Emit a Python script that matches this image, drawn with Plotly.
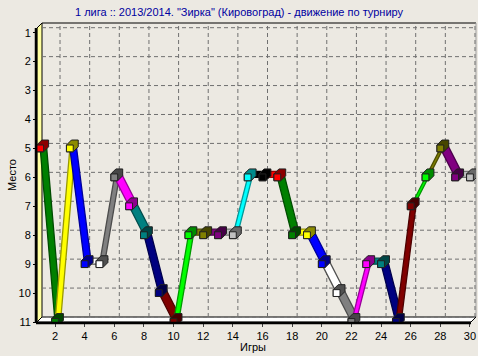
import plotly.graph_objects as go

# ---- data ----
games = list(range(1, 31))
places = [5, 11, 5, 9, 9, 6, 7, 8, 10, 11, 8, 8, 8, 8, 6, 6, 6, 8, 8, 9, 10, 11, 9, 9, 11, 7, 6, 5, 6, 6]
palette = ["#FF0000", "#008000", "#FFFF00", "#0000FF", "#FFFFFF", "#808080", "#FF00FF", "#008080",
           "#000080", "#800000", "#00FF00", "#808000", "#800080", "#C0C0C0", "#00FFFF", "#000000"]
x_ticks = list(range(2, 31, 2))
y_ticks = list(range(1, 12))
title_text = '1 лига :: 2013/2014. "Зирка" (Кировоград) - движение по турниру'
x_title = "Игры"
y_title = "Место"

# ---- geometry (pixels) ----
W, H = 478, 356
L, R, T, B = 37, 476, 23, 322
GX0, GDX = 40.2, 14.82   # pixel of game 1, pixels per game
PY0, PDY = 32.7, 28.93   # pixel of place 1, pixels per place
DEPTH = 5
RDEPTH = 6
BG = "#ECE9E2"
FONT = "Liberation Sans, Arial, sans-serif"

xr = [1 + (L - GX0) / GDX, 1 + (R - GX0) / GDX]
yr = [1 + (B - PY0) / PDY, 1 + (T - PY0) / PDY]
ddx = DEPTH / GDX
ddy = DEPTH / PDY
rdx = RDEPTH / GDX
rdy = RDEPTH / PDY


def px(xp):
    return (xp - L) / (R - L)


def py(yp):
    return (B - yp) / (B - T)


def darker(c, f=0.6):
    c = c.lstrip("#")
    r, g, b = (int(c[i:i + 2], 16) for i in (0, 2, 4))
    if (r, g, b) == (255, 255, 255):
        return "#505050"
    return "#%02x%02x%02x" % (int(r * f), int(g * f), int(b * f))


def col(i):
    return palette[i % len(palette)]


fig = go.Figure()

# ribbons
for i in range(len(games) - 1):
    x0, y0 = games[i], places[i]
    x1, y1 = games[i + 1], places[i + 1]
    c = col(i + 1)
    fig.add_trace(go.Scatter(
        x=[x0, x1, x1 + rdx, x0 + rdx, x0],
        y=[y0, y1, y1 - rdy, y0 - rdy, y0],
        mode="lines", fill="toself", fillcolor=c,
        line=dict(color=darker(c), width=1.3),
        hoverinfo="skip", showlegend=False))

# cubes
h = 3.4
hx, hy = h / GDX, h / PDY
for i, (g, p) in enumerate(zip(games, places)):
    c = col(i)
    fig.add_trace(go.Scatter(
        x=[g - hx, g - hx, g - hx + ddx, g + hx + ddx, g + hx + ddx, g + hx, g - hx],
        y=[p + hy, p - hy, p - hy - ddy, p - hy - ddy, p + hy - ddy, p + hy, p + hy],
        mode="lines", fill="toself", fillcolor=darker(c, 0.55),
        line=dict(color="#202020", width=1), hoverinfo="skip", showlegend=False))
    fig.add_trace(go.Scatter(
        x=[g - hx, g - hx, g + hx, g + hx, g - hx],
        y=[p + hy, p - hy, p - hy, p + hy, p + hy],
        mode="lines", fill="toself", fillcolor=c,
        line=dict(color="#202020", width=1), hoverinfo="skip", showlegend=False))

shapes = []
# back-wall grid
for g in x_ticks:
    shapes.append(dict(type="line", xref="x", yref="y", layer="below",
                       x0=g + ddx, x1=g + ddx, y0=yr[0] - ddy, y1=yr[1],
                       line=dict(color="#707070", width=1, dash="4px,3px")))
for p in y_ticks:
    shapes.append(dict(type="line", xref="x", yref="y", layer="below",
                       x0=xr[0] + ddx, x1=xr[1], y0=p - ddy, y1=p - ddy,
                       line=dict(color="#707070", width=1, dash="4px,3px")))
# back-wall border
shapes.append(dict(type="line", xref="paper", yref="paper", layer="below",
                   x0=px(L + DEPTH), x1=px(R), y0=py(T), y1=py(T),
                   line=dict(color="#000000", width=1)))
shapes.append(dict(type="line", xref="paper", yref="paper", layer="below",
                   x0=px(R), x1=px(R), y0=py(T), y1=py(B - DEPTH),
                   line=dict(color="#A0A0A0", width=1)))
# left wall (yellow)
shapes.append(dict(type="path", xref="paper", yref="paper", layer="below",
                   path="M %f,%f L %f,%f L %f,%f L %f,%f Z" % (
                       px(L), py(B), px(L), py(T + DEPTH), px(L + DEPTH), py(T),
                       px(L + DEPTH), py(B - DEPTH)),
                   fillcolor="#FFFFA0", line=dict(color="#000000", width=1)))
# floor (white)
shapes.append(dict(type="path", xref="paper", yref="paper", layer="below",
                   path="M %f,%f L %f,%f L %f,%f L %f,%f Z" % (
                       px(L), py(B), px(L + DEPTH), py(B - DEPTH), px(R), py(B - DEPTH),
                       px(R - DEPTH), py(B)),
                   fillcolor="#FFFFFF", line=dict(color="#000000", width=1)))
# thick front edges
shapes.append(dict(type="line", xref="paper", yref="paper", layer="above",
                   x0=px(L - 1), x1=px(L - 1), y0=py(T + DEPTH), y1=py(B + 1),
                   line=dict(color="#000000", width=2.5)))
shapes.append(dict(type="line", xref="paper", yref="paper", layer="above",
                   x0=px(L - 1), x1=px(R - DEPTH), y0=py(B + 1), y1=py(B + 1),
                   line=dict(color="#000000", width=2.5)))
shapes.append(dict(type="line", xref="paper", yref="paper", layer="above",
                   x0=px(L), x1=px(L + DEPTH), y0=py(T + DEPTH), y1=py(T),
                   line=dict(color="#000000", width=1)))
shapes.append(dict(type="line", xref="paper", yref="paper", layer="above",
                   x0=px(R - DEPTH), x1=px(R), y0=py(B), y1=py(B - DEPTH),
                   line=dict(color="#000000", width=1)))

annotations = [
    dict(text=x_title, xref="paper", yref="paper", x=px(253), y=py(347),
         xanchor="center", yanchor="middle",
         showarrow=False, font=dict(family=FONT, size=11, color="#000000")),
    dict(text=y_title, xref="paper", yref="paper", x=px(12), y=py(175),
         xanchor="center", yanchor="middle",
         textangle=-90, showarrow=False, font=dict(family=FONT, size=11, color="#000000")),
]

fig.update_layout(
    width=W, height=H, autosize=False,
    margin=dict(l=L, r=W - R, t=T, b=H - B, pad=0),
    paper_bgcolor=BG, plot_bgcolor=BG,
    title=dict(text=title_text, x=0.5, xanchor="center", y=1 - 12 / H, yanchor="middle",
               font=dict(family=FONT, size=11, color="#0000A0")),
    shapes=shapes, annotations=annotations,
    xaxis=dict(range=xr, tickvals=x_ticks, ticktext=[str(v) for v in x_ticks],
               showgrid=False, zeroline=False, showline=False,
               ticks="outside", ticklen=4, tickcolor="#404040",
               tickfont=dict(family=FONT, size=11, color="#000000")),
    yaxis=dict(range=yr, tickvals=y_ticks, ticktext=[str(v) for v in y_ticks],
               showgrid=False, zeroline=False, showline=False,
               ticks="outside", ticklen=3, tickcolor="#000000",
               tickfont=dict(family=FONT, size=11, color="#000000")),
)

fig.write_html("out.html")
